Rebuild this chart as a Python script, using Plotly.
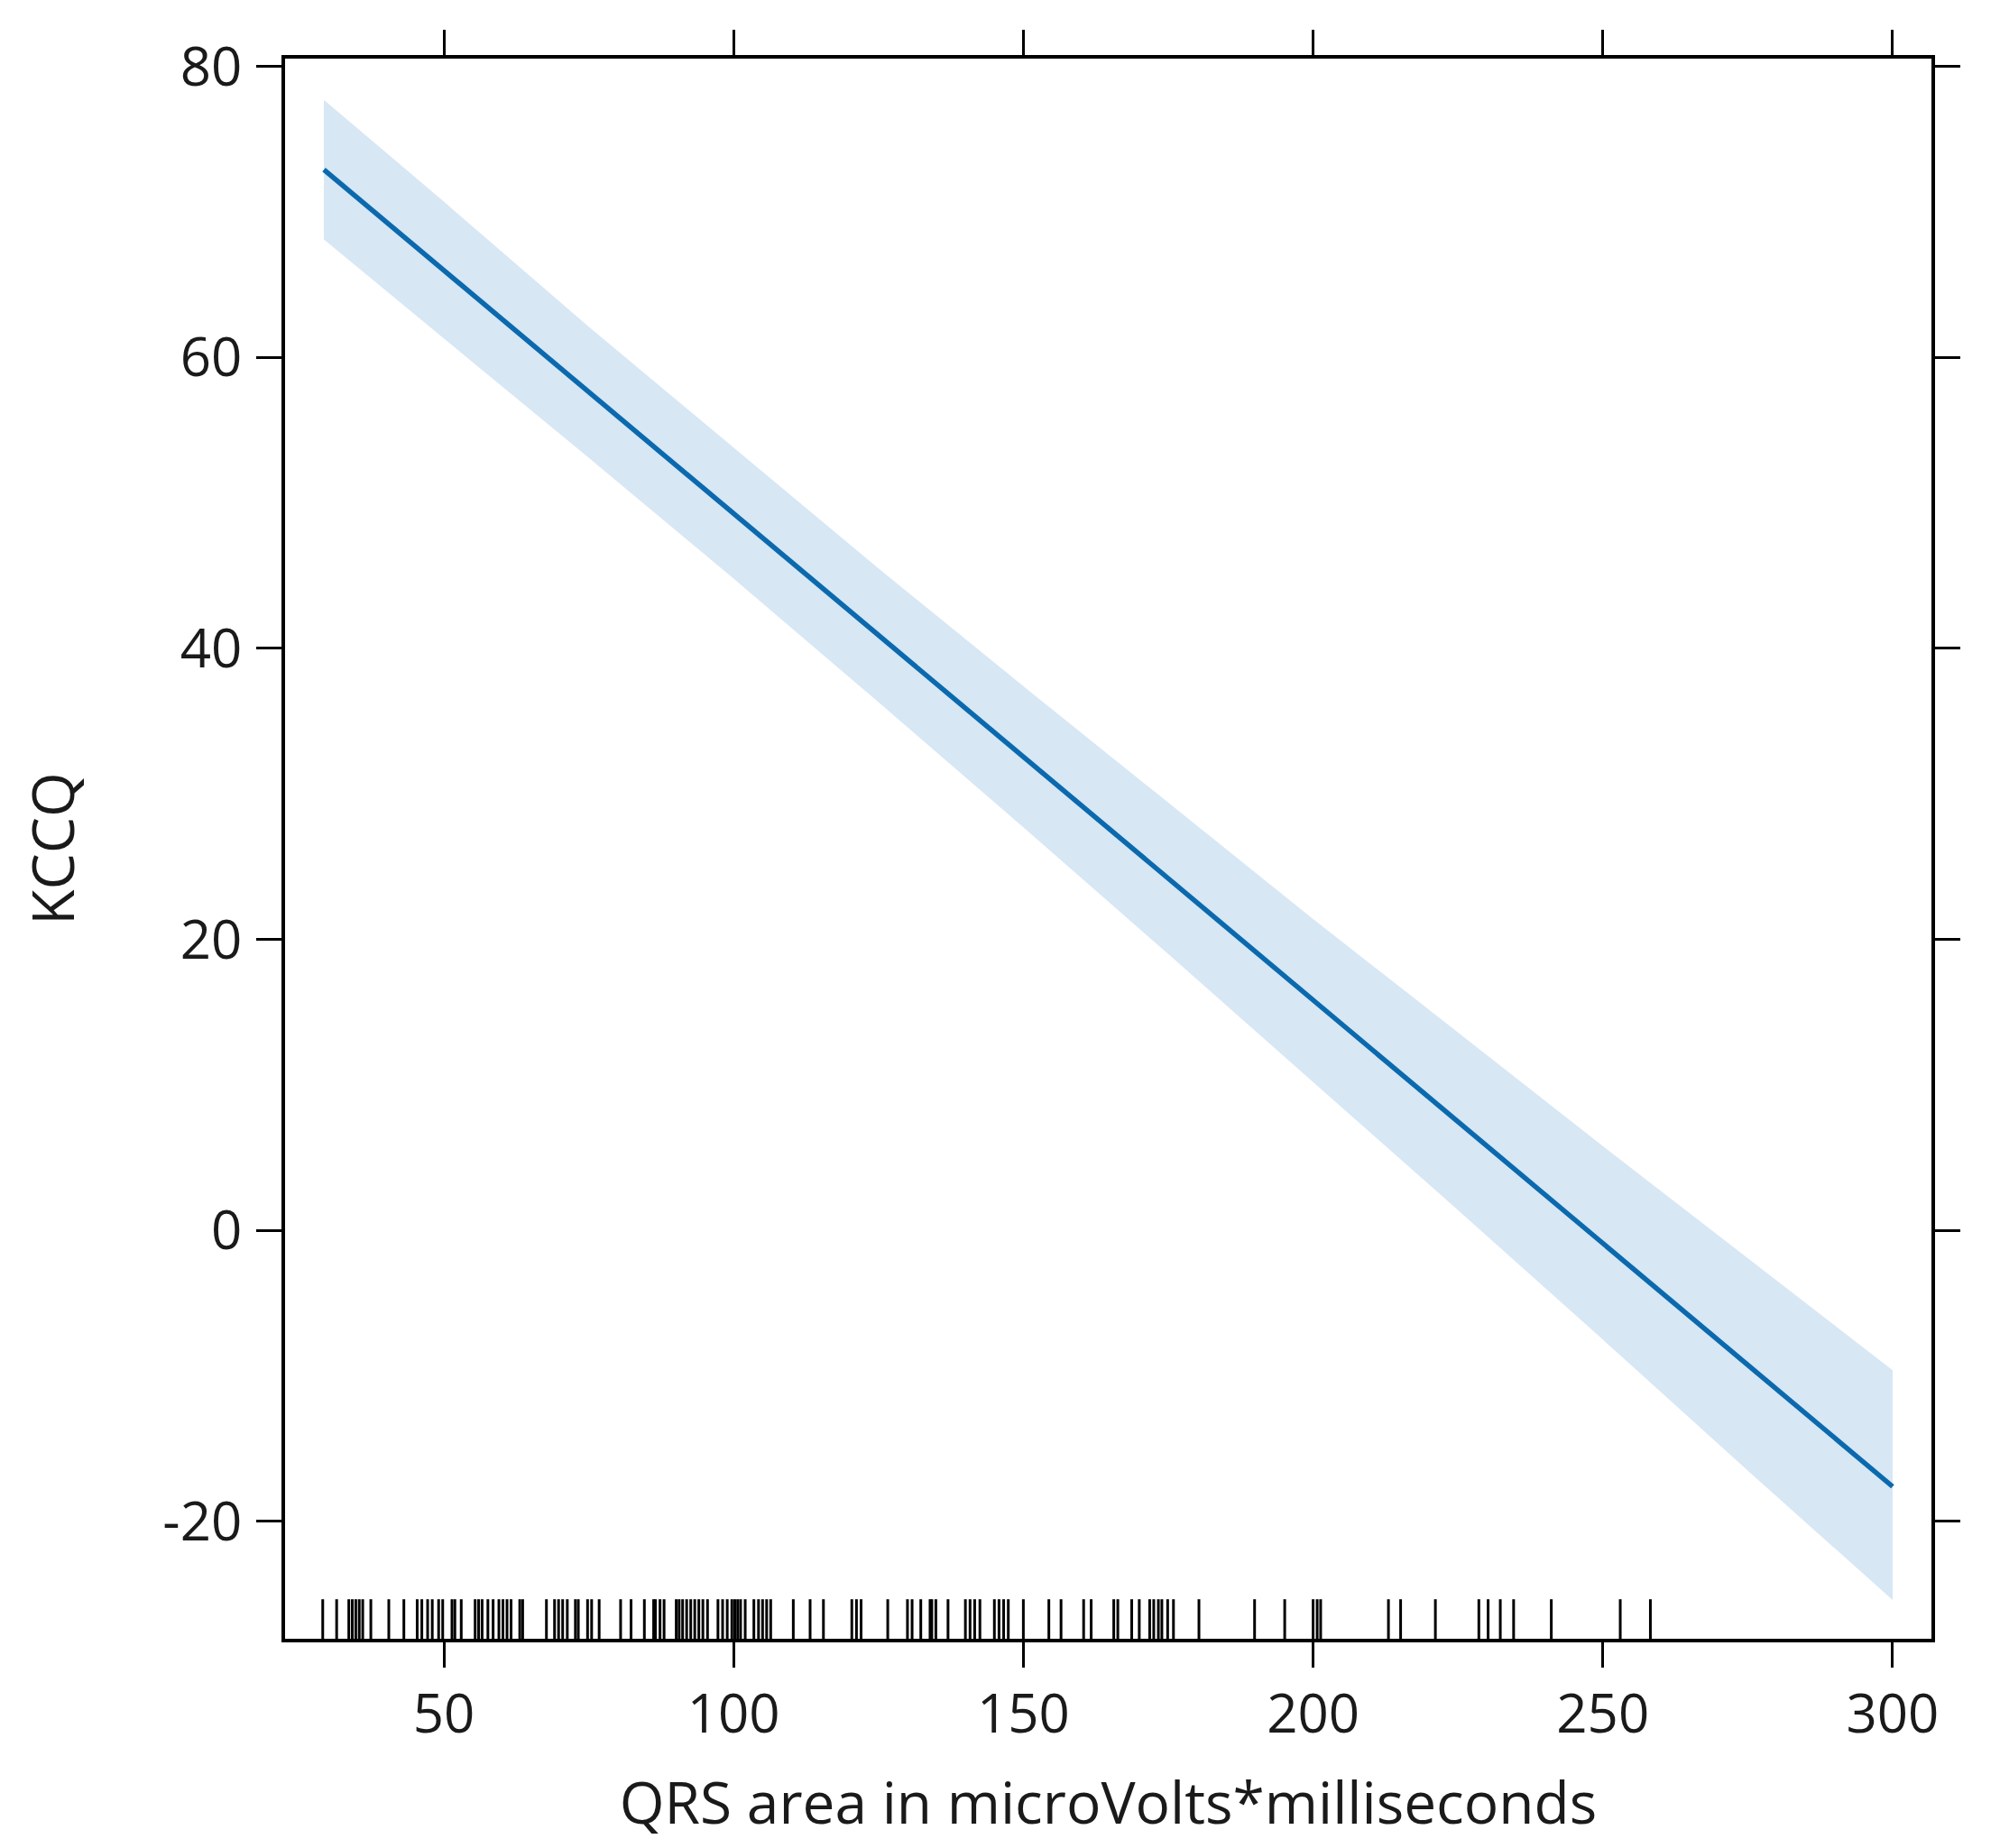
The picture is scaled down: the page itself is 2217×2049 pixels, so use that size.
import plotly.graph_objects as go

# Fitted line (read at its ends)
fit_x = [29.3, 300]
fit_y = [72.9, -17.6]

# Confidence band
band_x = [29.3, 50, 75, 100, 125, 150, 175, 200, 225, 250, 275, 300]
band_upper = [77.7, 70.7, 62.1, 53.8, 45.5, 37.4, 29.4, 21.4, 13.6, 5.8, -1.9, -9.6]
band_lower = [68.1, 61.3, 53.1, 44.8, 36.3, 27.7, 19.0, 10.2, 1.4, -7.5, -16.5, -25.4]

# Rug of observed QRS area values
rug_x = [29.1, 31.5, 33.6, 34.2, 34.8, 35.4, 36.0, 37.4, 40.5, 43.1, 45.4, 46.2, 47.2, 48.0,
         49.1, 49.8, 51.4, 51.9, 53.0, 55.4, 56.0, 56.6, 57.6, 58.5, 59.5, 60.2, 60.9, 61.6,
         63.1, 63.6, 67.7, 69.1, 69.8, 70.5, 71.3, 72.7, 73.2, 74.8, 75.5, 76.8, 80.5, 82.3,
         84.6, 86.2, 86.5, 87.3, 88.0, 90.1, 90.6, 91.2, 91.9, 92.6, 93.3, 94.0, 94.7, 95.5,
         97.3, 98.1, 98.9, 99.7, 100.2, 100.7, 101.2, 102.0, 103.5, 104.3, 105.0, 105.7, 106.4,
         110.3, 113.2, 115.5, 120.4, 121.2, 122.0, 126.6, 130.0, 130.8, 132.3, 133.9, 134.2,
         134.9, 137.0, 140.0, 140.8, 141.6, 142.5, 145.0, 145.8, 146.6, 147.4, 150.0, 154.4,
         156.5, 160.4, 161.7, 165.6, 166.3, 168.7, 170.0, 171.8, 172.5, 173.3, 173.9, 174.9,
         175.9, 180.3, 189.9, 195.1, 200.0, 200.7, 201.3, 213.0, 215.1, 221.1, 228.6, 230.2,
         232.3, 234.6, 241.1, 253.0, 258.2]

x_ticks = [50, 100, 150, 200, 250, 300]
y_ticks = [-20, 0, 20, 40, 60, 80]

LINE_COLOR = "#0B69AE"
BAND_COLOR = "#D7E7F4"
FONT = "Open Sans"

fig = go.Figure()

fig.add_trace(go.Scatter(
    x=band_x + band_x[::-1],
    y=band_upper + band_lower[::-1],
    fill="toself", fillcolor=BAND_COLOR,
    line=dict(width=0, color=BAND_COLOR),
    mode="lines", hoverinfo="skip", showlegend=False,
))

fig.add_trace(go.Scatter(
    x=fit_x, y=fit_y, mode="lines",
    line=dict(color=LINE_COLOR, width=5.5),
    showlegend=False,
))

rx, ry = [], []
rug_h = 0.025
for v in rug_x:
    rx += [v, v, None]
    ry += [0, rug_h, None]
fig.add_trace(go.Scatter(
    x=rx, y=ry, mode="lines", yaxis="y2",
    line=dict(color="black", width=3),
    showlegend=False, hoverinfo="skip",
))

axis_common = dict(
    showgrid=False, zeroline=False,
    showline=True, linecolor="black", linewidth=3.5,
    mirror="allticks", ticks="outside", ticklen=28, tickwidth=3, tickcolor="black",
    tickfont=dict(family=FONT, size=60, color="#1a1a1a"),
    title_font=dict(family=FONT, size=64, color="#1a1a1a"),
)

fig.update_layout(
    width=2217, height=2049,
    paper_bgcolor="white", plot_bgcolor="white",
    margin=dict(l=308, r=84, t=57, b=240),
    xaxis=dict(range=[22.6, 306.7], tickvals=x_ticks,
               title=dict(text="QRS area in microVolts*milliseconds", standoff=40),
               ticklabelstandoff=0, **axis_common),
    yaxis=dict(range=[-28.06, 80.53], tickvals=y_ticks,
               ticktext=[str(v) for v in y_ticks],
               title=dict(text="KCCQ", standoff=78),
               ticklabelstandoff=4, **axis_common),
    yaxis2=dict(range=[0, 1], overlaying="y", visible=False, fixedrange=True),
    showlegend=False,
)

fig.write_html("out.html")
